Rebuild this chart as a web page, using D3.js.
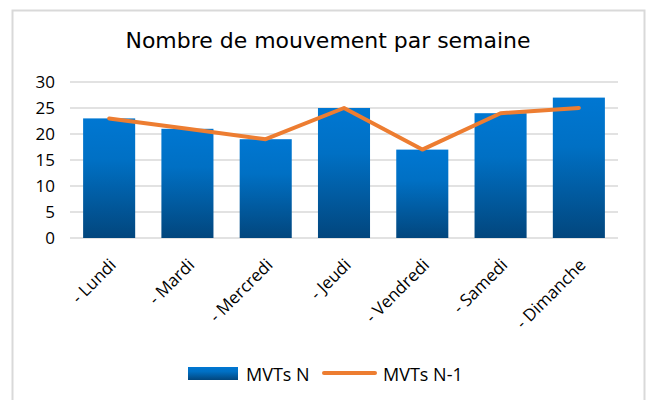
<!DOCTYPE html>
<html>
<head>
<meta charset="utf-8">
<script src="https://cdn.jsdelivr.net/npm/d3@7"></script>
<style>
  body { margin: 0; background: #fff; }
  text { font-family: "Open Sans", "DejaVu Sans", sans-serif; fill: #000; }
</style>
</head>
<body>
<div id="chart"></div>
<script>
  "use strict";

  var days = ["- Lundi", "- Mardi", "- Mercredi", "- Jeudi", "- Vendredi", "- Samedi", "- Dimanche"];
  var mvtsN = [23, 21, 19, 25, 17, 24, 27];
  var mvtsN1 = [23, 21, 19, 25, 17, 24, 25];
  var yTicks = [0, 5, 10, 15, 20, 25, 30];

  var W = 647, H = 400;
  var margin = {top: 82, right: 29, bottom: 162, left: 70 },
      width = W - margin.left - margin.right,
      height = H - margin.top - margin.bottom;

  var root = d3.select("#chart")
               .append("svg")
               .attr("width", W)
               .attr("height", H);

  // outer frame
  root.append("rect")
      .attr("x", 12.5).attr("y", 10.5)
      .attr("width", 632).attr("height", 400)
      .attr("fill", "#fff")
      .attr("stroke", "#d9d9d9")
      .attr("stroke-width", 2);

  var defs = root.append("defs");
  var grad = defs.append("linearGradient")
                 .attr("id", "barGrad")
                 .attr("x1", 0).attr("y1", 0).attr("x2", 0).attr("y2", 1);
  grad.append("stop").attr("offset", "0%").attr("stop-color", "#0077d2");
  grad.append("stop").attr("offset", "35%").attr("stop-color", "#0070c4");
  grad.append("stop").attr("offset", "100%").attr("stop-color", "#02467d");

  root.append("text")
      .attr("x", 328).attr("y", 48)
      .attr("text-anchor", "middle")
      .attr("textLength", 405)
      .attr("lengthAdjust", "spacingAndGlyphs")
      .style("font-family", "'DejaVu Sans', sans-serif")
      .style("font-size", "21px")
      .text("Nombre de mouvement par semaine");

  var svg = root.append("g")
                .attr("transform", "translate(" + margin.left + "," + margin.top + ")");

  var x = d3.scaleBand()
            .domain(days)
            .range([0, width])
            .paddingInner(0.335)
            .paddingOuter(0.1675);

  var y = d3.scaleLinear()
            .domain([0, 30])
            .range([height, 0]);

  // gridlines
  svg.append("g")
     .selectAll("line")
     .data(yTicks)
     .enter().append("line")
     .attr("x1", 0).attr("x2", width)
     .attr("y1", function(d){ return y(d); })
     .attr("y2", function(d){ return y(d); })
     .attr("stroke", "#d9d9d9")
     .attr("stroke-width", 1.5);

  // y axis labels
  var yaxis = svg.append("g")
     .call(d3.axisLeft(y).tickValues(yTicks).tickSize(0).tickPadding(15));
  yaxis.select(".domain").remove();
  yaxis.selectAll("text")
       .style("font-size", "17px")
       .style("font-family", "'Open Sans', sans-serif");

  // bars
  svg.append("g")
     .selectAll("rect")
     .data(mvtsN)
     .enter().append("rect")
     .attr("x", function(d, i){ return x(days[i]); })
     .attr("y", function(d){ return y(d); })
     .attr("width", x.bandwidth())
     .attr("height", function(d){ return height - y(d); })
     .attr("fill", "url(#barGrad)");

  // line
  var line = d3.line()
               .x(function(d, i){ return x(days[i]) + x.bandwidth() / 2; })
               .y(function(d){ return y(d); });

  svg.append("path")
     .datum(mvtsN1)
     .attr("d", line)
     .attr("fill", "none")
     .attr("stroke", "#ed7d31")
     .attr("stroke-width", 4)
     .attr("stroke-linecap", "round")
     .attr("stroke-linejoin", "round");

  // x labels rotated
  svg.append("g")
     .selectAll("text")
     .data(days)
     .enter().append("text")
     .attr("text-anchor", "end")
     .attr("transform", function(d){
        return "translate(" + (x(d) + x.bandwidth() / 2 + 8) + "," + (height + 28) + ") rotate(-45)";
     })
     .style("font-size", "17px")
     .style("font-family", "'Open Sans', sans-serif")
     .text(function(d){ return d; });

  // legend
  var leg = root.append("g");
  leg.append("rect")
     .attr("x", 188).attr("y", 367)
     .attr("width", 50).attr("height", 13)
     .attr("fill", "url(#barGrad)");
  leg.append("text")
     .attr("x", 246).attr("y", 381)
     .style("font-size", "18px")
     .text("MVTs N");
  leg.append("line")
     .attr("x1", 324).attr("x2", 375)
     .attr("y1", 373).attr("y2", 373)
     .attr("stroke", "#ed7d31")
     .attr("stroke-width", 4)
     .attr("stroke-linecap", "round");
  leg.append("text")
     .attr("x", 383).attr("y", 381)
     .style("font-size", "18px")
     .text("MVTs N-1");
</script>
</body>
</html>
